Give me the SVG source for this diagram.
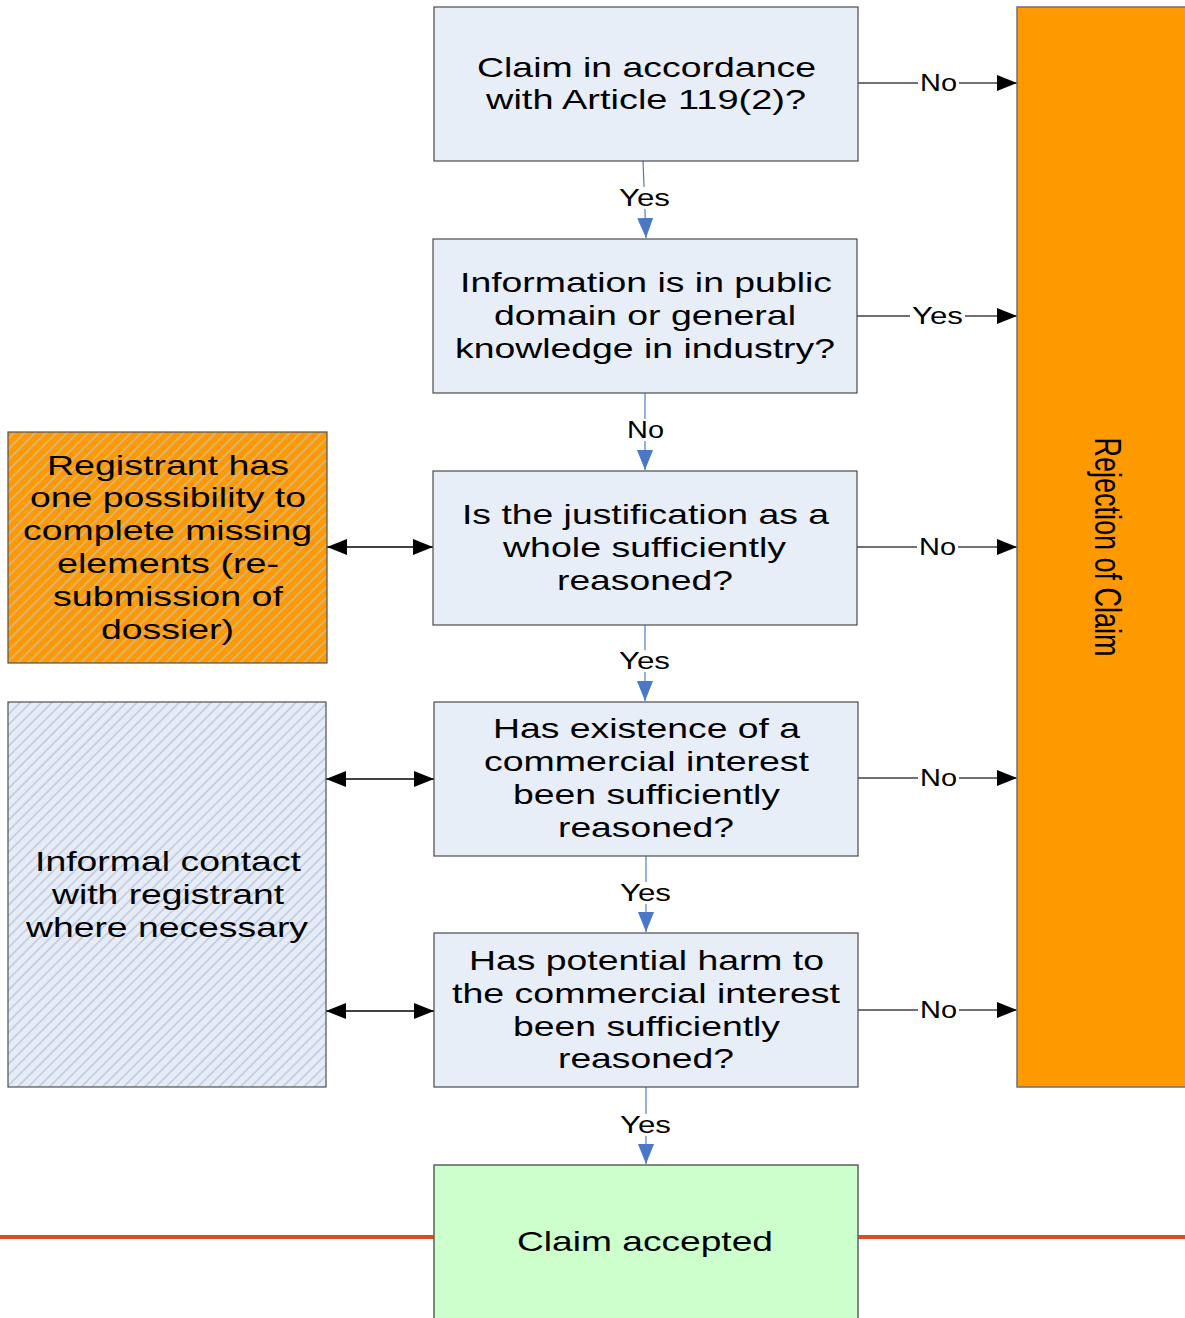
<svg xmlns="http://www.w3.org/2000/svg" width="1185" height="1318" viewBox="0 0 1185 1318">
<style>
.box{fill:#E8EEF8;stroke:#4a4a4a;stroke-width:1.2}
.t{font-family:"Liberation Sans",Arial,sans-serif;font-size:28px;fill:#000}
.l{font-family:"Liberation Sans",Arial,sans-serif;font-size:23px;fill:#000}
.vline{stroke:#4F7CC4;stroke-width:1.2;fill:none}
.hline{stroke:#3c4250;stroke-width:1.3;fill:none}
.dline{stroke:#000;stroke-width:1.3;fill:none}
.bg{fill:#fff}
</style>
<defs>
<marker id="ab" markerUnits="userSpaceOnUse" markerWidth="20" markerHeight="16" refX="20" refY="8" orient="auto"><path d="M0,0 L20,8 L0,16 z" fill="#4A78C6"/></marker>
<marker id="ak" markerUnits="userSpaceOnUse" markerWidth="20" markerHeight="16" refX="20" refY="8" orient="auto-start-reverse"><path d="M0,0 L20,8 L0,16 z" fill="#000"/></marker>
<pattern id="hatchO" patternUnits="userSpaceOnUse" width="7.5" height="7.5" patternTransform="rotate(45)"><rect width="7.5" height="7.5" fill="#FF9900"/><line x1="1" y1="0" x2="1" y2="7.5" stroke="#C8C0B0" stroke-width="1.3"/></pattern>
<pattern id="hatchB" patternUnits="userSpaceOnUse" width="7.5" height="7.5" patternTransform="rotate(45)"><rect width="7.5" height="7.5" fill="#E6ECF7"/><line x1="1" y1="0" x2="1" y2="7.5" stroke="#B4C0D4" stroke-width="1.2"/></pattern>
</defs>

<line x1="0" y1="1237" x2="1185" y2="1237" stroke="#DE4C1E" stroke-width="4"/>

<g id="connectors">
<line class="vline" x1="643" y1="161" x2="646" y2="238" marker-end="url(#ab)"/>
<rect class="bg" x="615" y="187" width="60" height="22"/>
<text class="l" x="619" y="206" textLength="51" lengthAdjust="spacingAndGlyphs">Yes</text>

<line class="vline" x1="645" y1="393" x2="645" y2="470" marker-end="url(#ab)"/>
<rect class="bg" x="623" y="419" width="45" height="22"/>
<text class="l" x="627" y="438" textLength="37" lengthAdjust="spacingAndGlyphs">No</text>

<line class="vline" x1="645" y1="625" x2="645" y2="701" marker-end="url(#ab)"/>
<rect class="bg" x="615" y="650" width="60" height="22"/>
<text class="l" x="619" y="669" textLength="51" lengthAdjust="spacingAndGlyphs">Yes</text>

<line class="vline" x1="646" y1="856" x2="646" y2="932" marker-end="url(#ab)"/>
<rect class="bg" x="616" y="882" width="60" height="22"/>
<text class="l" x="620" y="901" textLength="51" lengthAdjust="spacingAndGlyphs">Yes</text>

<line class="vline" x1="646" y1="1087" x2="646" y2="1164" marker-end="url(#ab)"/>
<rect class="bg" x="616" y="1114" width="60" height="22"/>
<text class="l" x="620" y="1133" textLength="51" lengthAdjust="spacingAndGlyphs">Yes</text>

<line class="hline" x1="858" y1="83" x2="1017" y2="83" marker-end="url(#ak)"/>
<rect class="bg" x="918" y="73" width="41" height="21"/>
<text class="l" x="920" y="91" textLength="37" lengthAdjust="spacingAndGlyphs">No</text>

<line class="hline" x1="857" y1="316" x2="1017" y2="316" marker-end="url(#ak)"/>
<rect class="bg" x="910" y="306" width="55" height="21"/>
<text class="l" x="912" y="324" textLength="51" lengthAdjust="spacingAndGlyphs">Yes</text>

<line class="hline" x1="857" y1="547" x2="1017" y2="547" marker-end="url(#ak)"/>
<rect class="bg" x="917" y="537" width="41" height="21"/>
<text class="l" x="919" y="555" textLength="37" lengthAdjust="spacingAndGlyphs">No</text>

<line class="hline" x1="858" y1="778" x2="1017" y2="778" marker-end="url(#ak)"/>
<rect class="bg" x="918" y="768" width="41" height="21"/>
<text class="l" x="920" y="786" textLength="37" lengthAdjust="spacingAndGlyphs">No</text>

<line class="hline" x1="858" y1="1010" x2="1017" y2="1010" marker-end="url(#ak)"/>
<rect class="bg" x="918" y="1000" width="41" height="21"/>
<text class="l" x="920" y="1018" textLength="37" lengthAdjust="spacingAndGlyphs">No</text>

<line class="dline" x1="327" y1="547" x2="433" y2="547" marker-start="url(#ak)" marker-end="url(#ak)"/>
<line class="dline" x1="326" y1="779" x2="434" y2="779" marker-start="url(#ak)" marker-end="url(#ak)"/>
<line class="dline" x1="326" y1="1011" x2="434" y2="1011" marker-start="url(#ak)" marker-end="url(#ak)"/>
</g>

<g id="n1">
<rect class="box" x="434" y="7" width="424" height="154"/>
<text class="t" x="477" y="77" textLength="339" lengthAdjust="spacingAndGlyphs">Claim in accordance</text>
<text class="t" x="486" y="109" textLength="320" lengthAdjust="spacingAndGlyphs">with Article 119(2)?</text>
</g>

<g id="n2">
<rect class="box" x="433" y="239" width="424" height="154"/>
<text class="t" x="460" y="292" textLength="372" lengthAdjust="spacingAndGlyphs">Information is in public</text>
<text class="t" x="494" y="325" textLength="302" lengthAdjust="spacingAndGlyphs">domain or general</text>
<text class="t" x="455" y="358" textLength="380" lengthAdjust="spacingAndGlyphs">knowledge in industry?</text>
</g>

<g id="n3">
<rect class="box" x="433" y="471" width="424" height="154"/>
<text class="t" x="462" y="524" textLength="367" lengthAdjust="spacingAndGlyphs">Is the justification as a</text>
<text class="t" x="503" y="557" textLength="283" lengthAdjust="spacingAndGlyphs">whole sufficiently</text>
<text class="t" x="557" y="590" textLength="176" lengthAdjust="spacingAndGlyphs">reasoned?</text>
</g>

<g id="n4">
<rect class="box" x="434" y="702" width="424" height="154"/>
<text class="t" x="493" y="738" textLength="307" lengthAdjust="spacingAndGlyphs">Has existence of a</text>
<text class="t" x="484" y="771" textLength="325" lengthAdjust="spacingAndGlyphs">commercial interest</text>
<text class="t" x="513" y="804" textLength="267" lengthAdjust="spacingAndGlyphs">been sufficiently</text>
<text class="t" x="558" y="837" textLength="176" lengthAdjust="spacingAndGlyphs">reasoned?</text>
</g>

<g id="n5">
<rect class="box" x="434" y="933" width="424" height="154"/>
<text class="t" x="469" y="970" textLength="355" lengthAdjust="spacingAndGlyphs">Has potential harm to</text>
<text class="t" x="452" y="1003" textLength="388" lengthAdjust="spacingAndGlyphs">the commercial interest</text>
<text class="t" x="513" y="1036" textLength="267" lengthAdjust="spacingAndGlyphs">been sufficiently</text>
<text class="t" x="558" y="1068" textLength="176" lengthAdjust="spacingAndGlyphs">reasoned?</text>
</g>

<g id="n6">
<rect x="434" y="1165" width="424" height="160" fill="#CCFFCC" stroke="#606060" stroke-width="1.5"/>
<text class="t" x="517" y="1251" textLength="256" lengthAdjust="spacingAndGlyphs">Claim accepted</text>
</g>

<g id="rejection">
<rect x="1017" y="7" width="175" height="1080" fill="#FF9900" stroke="#707070" stroke-width="1.5"/>
<text transform="translate(1095,547) rotate(90) scale(1,1.4)" font-family="Liberation Sans, Arial, sans-serif" font-size="27" text-anchor="middle" x="0" y="0" fill="#000">Rejection of Claim</text>
</g>

<g id="registrant">
<rect x="8" y="432" width="319" height="231" fill="url(#hatchO)" stroke="#505050" stroke-width="1.2"/>
<text class="t" x="47" y="475" textLength="242" lengthAdjust="spacingAndGlyphs">Registrant has</text>
<text class="t" x="30" y="507" textLength="276" lengthAdjust="spacingAndGlyphs">one possibility to</text>
<text class="t" x="23" y="540" textLength="289" lengthAdjust="spacingAndGlyphs">complete missing</text>
<text class="t" x="57" y="573" textLength="222" lengthAdjust="spacingAndGlyphs">elements (re-</text>
<text class="t" x="53" y="606" textLength="230" lengthAdjust="spacingAndGlyphs">submission of</text>
<text class="t" x="101" y="639" textLength="133" lengthAdjust="spacingAndGlyphs">dossier)</text>
</g>

<g id="informal">
<rect x="8" y="702" width="318" height="385" fill="url(#hatchB)" stroke="#505050" stroke-width="1.2"/>
<text class="t" x="35" y="871" textLength="266" lengthAdjust="spacingAndGlyphs">Informal contact</text>
<text class="t" x="52" y="904" textLength="232" lengthAdjust="spacingAndGlyphs">with registrant</text>
<text class="t" x="26" y="937" textLength="282" lengthAdjust="spacingAndGlyphs">where necessary</text>
</g>
</svg>
